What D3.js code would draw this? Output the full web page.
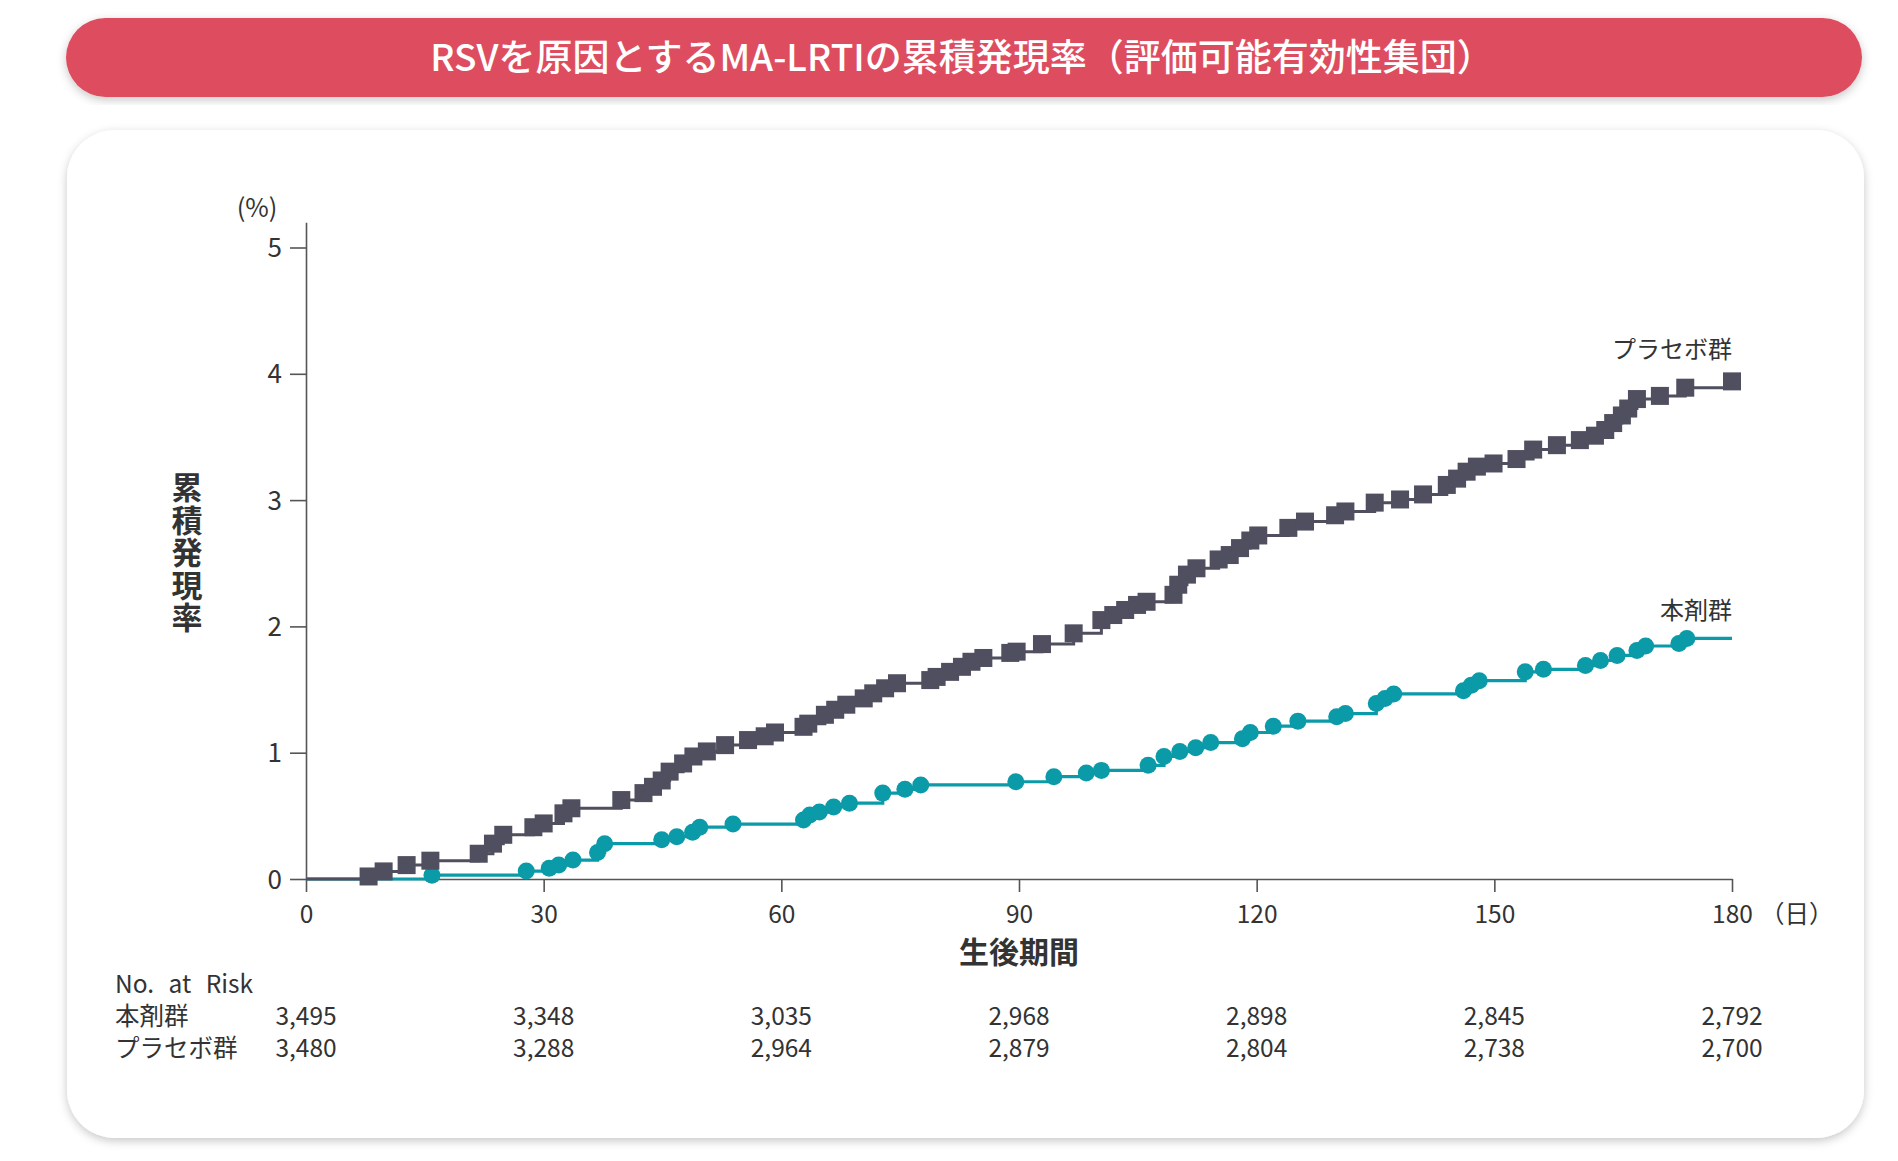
<!DOCTYPE html>
<html>
<head>
<meta charset="utf-8">
<script src="https://cdn.jsdelivr.net/npm/d3@7"></script>
<style>
  html, body { margin: 0; padding: 0; background: #fff; }
  svg { display: block; font-family: "Noto Sans CJK JP", "Noto Sans", sans-serif; }
</style>
</head>
<body>
<svg id="chart" width="1898" height="1161"></svg>
<script>
// data
const titleText = "RSVを原因とするMA-LRTIの累積発現率（評価可能有効性集団）";
const groupNames = ["本剤群", "プラセボ群"];
const xTicks = [0, 30, 60, 90, 120, 150, 180];
const yTicks = [0, 1, 2, 3, 4, 5];

// placebo: event days and cumulative incidence (%)
const placeboDays = [7.9, 9.8, 12.7, 15.7, 21.8, 23.6, 24.9, 28.7, 30.0, 32.5, 33.5, 39.8, 42.6, 43.8, 44.9,
  45.9, 47.6, 48.9, 50.6, 52.9, 55.8, 57.9, 59.2, 62.8, 63.4, 65.5, 66.8, 68.2, 70.4, 71.6, 73.1, 74.6,
  78.8, 79.6, 81.3, 82.8, 84.0, 85.5, 88.9, 89.7, 92.9, 96.9, 100.4, 101.9, 103.4, 104.9, 106.1, 109.5,
  110.1, 111.2, 112.4, 115.2, 116.6, 117.9, 119.2, 120.2, 124.0, 126.1, 129.9, 131.2, 134.9, 138.1,
  141.0, 144.0, 145.3, 146.5, 147.8, 149.9, 152.8, 154.9, 157.9, 160.8, 162.7, 164.0, 165.0, 166.1,
  166.9, 168.0, 170.9, 174.1, 180];
const placeboRate = [0.02, 0.06, 0.11, 0.145, 0.20, 0.28, 0.35, 0.41, 0.44, 0.52, 0.56, 0.625, 0.68, 0.73, 0.78,
  0.85, 0.915, 0.97, 1.01, 1.06, 1.10, 1.13, 1.16, 1.205, 1.23, 1.30, 1.34, 1.38, 1.43, 1.47, 1.51, 1.55,
  1.575, 1.60, 1.64, 1.68, 1.72, 1.75, 1.79, 1.80, 1.86, 1.945, 2.05, 2.09, 2.13, 2.17, 2.195, 2.25,
  2.33, 2.41, 2.46, 2.53, 2.565, 2.62, 2.68, 2.72, 2.78, 2.83, 2.88, 2.91, 2.98, 3.005,
  3.045, 3.12, 3.17, 3.225, 3.265, 3.29, 3.325, 3.40, 3.435, 3.475, 3.51, 3.555, 3.61, 3.67,
  3.725, 3.80, 3.825, 3.89, 3.94];

// active drug group
const drugDays = [15.9, 27.8, 30.7, 31.9, 33.7, 36.8, 37.7, 44.9, 46.8, 48.8, 49.7, 53.9, 62.8, 63.6, 64.8,
  66.6, 68.6, 72.8, 75.6, 77.6, 89.6, 94.4, 98.5, 100.4, 106.3, 108.3, 110.3, 112.3, 114.2, 118.2, 119.2,
  122.1, 125.2, 130.1, 131.2, 135.1, 136.2, 137.3, 146.1, 147.1, 148.1, 153.9, 156.2, 161.5, 163.4, 165.5,
  168.0, 169.1, 173.3, 174.3];
const drugRate = [0.03, 0.063, 0.085, 0.11, 0.15, 0.21, 0.28, 0.31, 0.335, 0.37, 0.41, 0.435, 0.467, 0.507, 0.53,
  0.57, 0.60, 0.68, 0.71, 0.745, 0.77, 0.81, 0.84, 0.86, 0.90, 0.97, 1.01, 1.04, 1.08, 1.11, 1.16,
  1.21, 1.25, 1.285, 1.31, 1.39, 1.43, 1.465, 1.49, 1.535, 1.57, 1.64, 1.66, 1.69, 1.73, 1.77,
  1.81, 1.845, 1.865, 1.905];

// number at risk
const drugAtRisk = ["3,495", "3,348", "3,035", "2,968", "2,898", "2,845", "2,792"];
const placeboAtRisk = ["3,480", "3,288", "2,964", "2,879", "2,804", "2,738", "2,700"];

const svg = d3.select("#chart");
const grey = "#4f4f60";
const teal = "#0a9aa8";
const textCol = "#333";

// soft shadow for the boxes
const defs = svg.append("defs");
const shadow = defs.append("filter").attr("id", "shadow")
    .attr("x", "-5%").attr("y", "-10%").attr("width", "110%").attr("height", "120%");
shadow.append("feDropShadow")
    .attr("dx", 0).attr("dy", 3).attr("stdDeviation", 5)
    .attr("flood-color", "#000").attr("flood-opacity", 0.22);

// title bar
svg.append("rect")
    .attr("x", 66).attr("y", 18).attr("width", 1796).attr("height", 79).attr("rx", 39.5)
    .attr("fill", "#de4e5e").attr("filter", "url(#shadow)");
svg.append("text")
    .attr("x", 962).attr("y", 71)
    .attr("text-anchor", "middle")
    .attr("fill", "#fff").attr("font-size", 37).attr("font-weight", 500)
    .text(titleText);

// white panel
svg.append("rect")
    .attr("x", 67).attr("y", 130).attr("width", 1797).attr("height", 1008).attr("rx", 48)
    .attr("fill", "#fff").attr("filter", "url(#shadow)");

// scales
const x = d3.scaleLinear().domain([0, 180]).range([306, 1732]);
const y = d3.scaleLinear().domain([0, 5.2]).range([879, 879 - 5.2 * 126.3]);

const g = svg.append("g");
const fs = 24.5;

// axes
const yAxis = g.append("g")
    .attr("transform", `translate(${x(0)},0)`)
    .call(d3.axisLeft(y).tickValues(yTicks).tickFormat(d3.format("d"))
        .tickSize(16).tickSizeOuter(0).tickPadding(8));
const xAxis = g.append("g")
    .attr("transform", `translate(0,${y(0)})`)
    .call(d3.axisBottom(x).tickValues(xTicks).tickSize(13).tickSizeOuter(0));

[yAxis, xAxis].forEach(a => {
    a.selectAll("path, line").attr("stroke", "#555").attr("stroke-width", 1.6);
    a.selectAll("text").attr("fill", textCol).attr("font-size", fs)
        .attr("font-family", "\"Noto Sans CJK JP\", \"Noto Sans\", sans-serif");
});
xAxis.selectAll("text").attr("y", 44).attr("dy", 0);
yAxis.selectAll("text").attr("dy", "0.35em").attr("font-size", 26);

g.append("text")
    .attr("x", x(180) + 28).attr("y", y(0) + 44)
    .attr("fill", textCol).attr("font-size", fs)
    .text("（日）");

g.append("text")
    .attr("x", 257).attr("y", 217)
    .attr("text-anchor", "middle")
    .attr("fill", textCol).attr("font-size", 25.5)
    .text("(%)");

// y title, vertical
g.append("text")
    .attr("x", 187).attr("y", 553)
    .attr("text-anchor", "middle")
    .style("writing-mode", "vertical-rl")
    .attr("fill", textCol).attr("font-size", 31).attr("font-weight", 700)
    .attr("letter-spacing", 1.5)
    .text("累積発現率");

// x title
g.append("text")
    .attr("x", (x(0) + x(180)) / 2).attr("y", 963)
    .attr("text-anchor", "middle")
    .attr("fill", textCol).attr("font-size", 30).attr("font-weight", 700)
    .text("生後期間");

// step lines
const stepLine = d3.line()
    .x(d => x(d[0]))
    .y(d => y(d[1]))
    .curve(d3.curveStepAfter);

const drugPts = [[0, 0]].concat(drugDays.map((d, i) => [d, drugRate[i]])).concat([[180, drugRate[drugRate.length - 1]]]);
const placeboPts = [[0, 0]].concat(placeboDays.map((d, i) => [d, placeboRate[i]]));

g.append("path")
    .datum(drugPts)
    .attr("fill", "none").attr("stroke", teal).attr("stroke-width", 3.2)
    .attr("d", stepLine);

g.append("g").selectAll("circle")
    .data(drugDays.map((d, i) => [d, drugRate[i]]))
    .join("circle")
    .attr("cx", d => x(d[0])).attr("cy", d => y(d[1]))
    .attr("r", 8.5).attr("fill", teal);

g.append("path")
    .datum(placeboPts)
    .attr("fill", "none").attr("stroke", grey).attr("stroke-width", 3)
    .attr("d", stepLine);

const sq = 18;
g.append("g").selectAll("rect")
    .data(placeboDays.map((d, i) => [d, placeboRate[i]]))
    .join("rect")
    .attr("x", d => x(d[0]) - sq / 2).attr("y", d => y(d[1]) - sq / 2)
    .attr("width", sq).attr("height", sq).attr("fill", grey);

// curve labels
g.append("text")
    .attr("x", x(180)).attr("y", 358)
    .attr("text-anchor", "end")
    .attr("fill", textCol).attr("font-size", 24)
    .text(groupNames[1]);
g.append("text")
    .attr("x", x(180)).attr("y", 619)
    .attr("text-anchor", "end")
    .attr("fill", textCol).attr("font-size", 24)
    .text(groupNames[0]);

// number at risk table
g.append("text")
    .attr("x", 115).attr("y", 993)
    .attr("fill", textCol).attr("font-size", fs)
    .attr("word-spacing", 9)
    .text("No. at Risk");
g.append("text")
    .attr("x", 115).attr("y", 1025)
    .attr("fill", textCol).attr("font-size", fs)
    .text(groupNames[0]);
g.append("text")
    .attr("x", 115).attr("y", 1057)
    .attr("fill", textCol).attr("font-size", fs)
    .text(groupNames[1]);

g.append("g").selectAll("text")
    .data(drugAtRisk)
    .join("text")
    .attr("x", (d, i) => x(xTicks[i])).attr("y", 1025)
    .attr("text-anchor", "middle")
    .attr("fill", textCol).attr("font-size", fs)
    .text(d => d);
g.append("g").selectAll("text")
    .data(placeboAtRisk)
    .join("text")
    .attr("x", (d, i) => x(xTicks[i])).attr("y", 1057)
    .attr("text-anchor", "middle")
    .attr("fill", textCol).attr("font-size", fs)
    .text(d => d);
</script>
</body>
</html>
